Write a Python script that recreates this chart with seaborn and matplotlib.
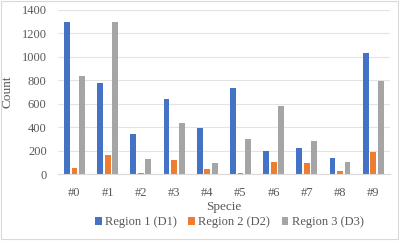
import pandas as pd
import seaborn as sns
import matplotlib.pyplot as plt
from matplotlib.patches import Rectangle

# valores
species = ['#0', '#1', '#2', '#3', '#4', '#5', '#6', '#7', '#8', '#9']
region1 = [1295, 777, 341, 643, 390, 732, 196, 219, 134, 1035]
region2 = [55, 162, 10, 120, 45, 8, 105, 94, 26, 185]
region3 = [838, 1300, 130, 433, 94, 296, 580, 282, 102, 790]
regions = ['Region 1 (D1)', 'Region 2 (D2)', 'Region 3 (D3)']
colors = ['#4472C4', '#ED7D31', '#A5A5A5']

df = pd.DataFrame({'Specie': species * 3,
                   'Count': region1 + region2 + region3,
                   'Region': [r for r in regions for _ in species]})

sns.set_style('white')
plt.rcParams['font.family'] = ['Liberation Serif', 'DejaVu Serif']

fig = plt.figure(figsize=(3.99, 2.41), dpi=100)
ax = fig.add_axes([0.145, 0.278, 0.832, 0.681])

sns.barplot(data=df, x='Specie', y='Count', hue='Region', palette=colors,
            width=0.68, gap=0.22, linewidth=0, saturation=1, ax=ax, legend=True)

ax.set_ylim(0, 1400)
ax.set_yticks(range(0, 1401, 200))
ax.set_xlim(-0.5, 9.5)
ax.grid(axis='y', color='#E3E3E3', linewidth=0.8)
ax.set_axisbelow(True)
for s in ['top', 'right', 'left']:
    ax.spines[s].set_visible(False)
ax.spines['bottom'].set_color('#D9D9D9')
ax.tick_params(axis='y', length=0, labelsize=9, colors='#595959', pad=8)
ax.tick_params(axis='x', length=0, labelsize=9, colors='#595959', pad=9)
ax.set_xlabel('Specie', fontsize=9.5, color='#595959', labelpad=2)
ax.set_ylabel('Count', fontsize=9.5, color='#595959', labelpad=6)

ax.legend(loc='center', bbox_to_anchor=(0.575, 0.077), bbox_transform=fig.transFigure,
          ncol=3, frameon=False, fontsize=9, handlelength=0.55, handleheight=0.55,
          columnspacing=0.9, handletextpad=0.25, labelcolor='#595959')

# borda do gráfico
fig.patches.append(Rectangle((0.002, 0.01), 0.996, 0.985, transform=fig.transFigure,
                             fill=False, edgecolor='#D9D9D9', linewidth=0.8))

fig.savefig('out.png', dpi=100)
